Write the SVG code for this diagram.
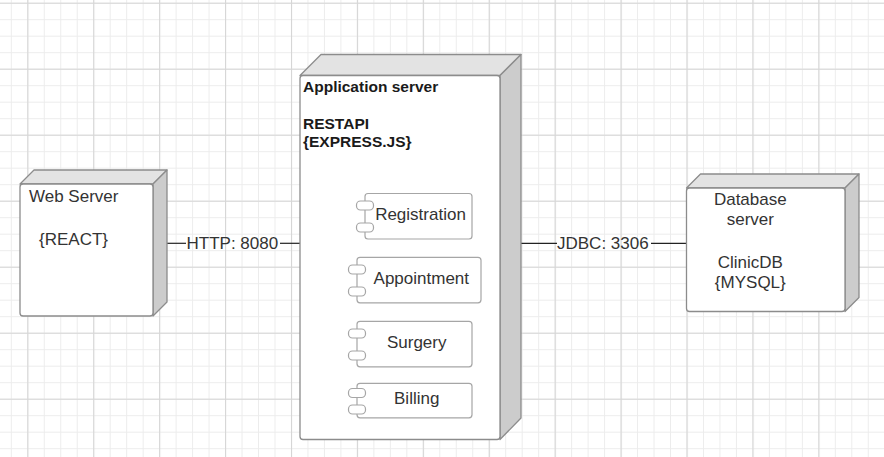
<svg xmlns="http://www.w3.org/2000/svg" width="884" height="457" viewBox="0 0 884 457">
  <style>
    .front { fill: #ffffff; stroke: #8c8c8c; stroke-width: 1.3; }
    .top { fill: #e3e3e3; stroke: #8c8c8c; stroke-width: 1.3; stroke-linejoin: round; }
    .side { fill: #cccccc; stroke: #8c8c8c; stroke-width: 1.3; stroke-linejoin: round; }
    .comp { fill: #ffffff; stroke: #a6a6a6; stroke-width: 1.2; }
    .port { fill: #ffffff; stroke: #a6a6a6; stroke-width: 1.2; }
    .t { font-family: "Liberation Sans", Arial, sans-serif; font-size: 17px; fill: #333333; }
    .b { font-family: "Liberation Sans", Arial, sans-serif; font-size: 15.5px; font-weight: bold; fill: #1a1a1a; }
    .conn { stroke: #222222; stroke-width: 1.2; fill: none; }
  </style>
  <defs>
    <pattern id="minor" patternUnits="userSpaceOnUse" x="10.82" y="2.7" width="16.48" height="16.5">
      <path d="M0.5 0 V16.5 M0 0.5 H16.48" stroke="#ececec" stroke-width="1" fill="none"/>
    </pattern>
    <pattern id="major" patternUnits="userSpaceOnUse" x="27.3" y="2.7" width="65.92" height="66">
      <path d="M0.5 0 V66 M0 0.5 H65.92" stroke="#d6d6d6" stroke-width="1.2" fill="none"/>
    </pattern>
  </defs>
  <rect width="884" height="457" fill="#ffffff"/>
  <rect width="884" height="457" fill="url(#minor)"/>
  <rect width="884" height="457" fill="url(#major)"/>

  <g id="connectors">
    <line class="conn" x1="167" y1="243.3" x2="186" y2="243.3"/>
    <line class="conn" x1="280" y1="243.3" x2="300" y2="243.3"/>
    <text class="t" x="186.5" y="248.5">HTTP: 8080</text>
    <line class="conn" x1="521" y1="243.3" x2="557" y2="243.3"/>
    <line class="conn" x1="651" y1="243.3" x2="686.5" y2="243.3"/>
    <text class="t" x="557" y="248.5">JDBC: 3306</text>
  </g>

  <g id="web-server">
    <path class="top" d="M20 184 L34 170 L167 170 L153 184 Z"/>
    <path class="side" d="M153 184 L167 170 L167 302 L153 316 Z"/>
    <rect class="front" x="20" y="184" width="133" height="132" rx="3"/>
    <text class="t" x="29" y="201.7">Web Server</text>
    <text class="t" x="39" y="245">{REACT}</text>
  </g>

  <g id="application-server">
    <path class="top" d="M300 75.5 L321 54.5 L521 54.5 L500 75.5 Z"/>
    <path class="side" d="M500 75.5 L521 54.5 L521 418 L500 439.5 Z"/>
    <rect class="front" x="300" y="75.5" width="200" height="364" rx="3"/>
    <text class="b" x="303" y="91.7">Application server</text>
    <text class="b" x="303" y="129.3">RESTAPI</text>
    <text class="b" x="303" y="146.7">{EXPRESS.JS}</text>
  </g>

  <g id="registration">
    <rect class="comp" x="365" y="193.5" width="107" height="45.5" rx="3"/>
    <rect class="port" x="356.5" y="201" width="17" height="9" rx="4"/>
    <rect class="port" x="356.5" y="223" width="17" height="9" rx="4"/>
    <text class="t" x="420.5" y="220" text-anchor="middle">Registration</text>
  </g>

  <g id="appointment">
    <rect class="comp" x="357" y="257.3" width="124" height="45.5" rx="3"/>
    <rect class="port" x="348.5" y="265" width="17" height="9" rx="4"/>
    <rect class="port" x="348.5" y="287" width="17" height="9" rx="4"/>
    <text class="t" x="421.3" y="284" text-anchor="middle">Appointment</text>
  </g>

  <g id="surgery">
    <rect class="comp" x="357" y="321.3" width="115" height="45.5" rx="3"/>
    <rect class="port" x="348.5" y="329" width="17" height="9" rx="4"/>
    <rect class="port" x="348.5" y="351" width="17" height="9" rx="4"/>
    <text class="t" x="416.7" y="347.7" text-anchor="middle">Surgery</text>
  </g>

  <g id="billing">
    <rect class="comp" x="357" y="383.3" width="115" height="34.5" rx="3"/>
    <rect class="port" x="348.5" y="388.5" width="17" height="9" rx="4"/>
    <rect class="port" x="348.5" y="405" width="17" height="9" rx="4"/>
    <text class="t" x="416.7" y="404.3" text-anchor="middle">Billing</text>
  </g>

  <g id="database-server">
    <path class="top" d="M686.5 188 L700.5 174 L859 174 L845 188 Z"/>
    <path class="side" d="M845 188 L859 174 L859 297.5 L845 311.5 Z"/>
    <rect class="front" x="686.5" y="188" width="158.5" height="123.5" rx="3"/>
    <text class="t" x="750.3" y="205" text-anchor="middle">Database</text>
    <text class="t" x="750.3" y="225" text-anchor="middle">server</text>
    <text class="t" x="750.3" y="268.3" text-anchor="middle">ClinicDB</text>
    <text class="t" x="750.3" y="288.3" text-anchor="middle">{MYSQL}</text>
  </g>
</svg>
